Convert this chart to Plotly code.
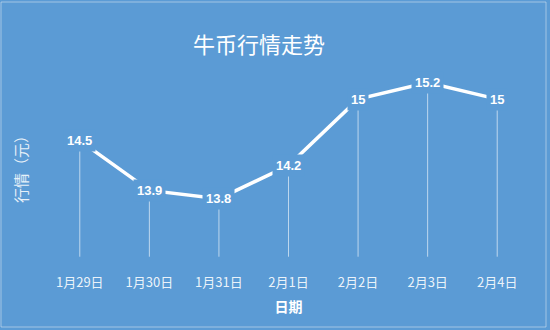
import plotly.graph_objects as go

categories = ["1月29日", "1月30日", "1月31日", "2月1日", "2月2日", "2月3日", "2月4日"]
values = [14.5, 13.9, 13.8, 14.2, 15.0, 15.2, 15.0]
labels = ["14.5", "13.9", "13.8", "14.2", "15", "15.2", "15"]
y_min = 13.0
drop_end = 13.1

BG = "#5b9bd5"
CJK = "Noto Sans CJK SC"

fig = go.Figure()

# drop lines from each point down toward the axis
fig.add_trace(go.Scatter(
    x=categories, y=values, mode="markers",
    marker=dict(size=1, color="rgba(0,0,0,0)"),
    error_y=dict(type="data", symmetric=False, array=[0] * len(values),
                 arrayminus=[v - drop_end for v in values],
                 color="rgba(255,255,255,0.6)", thickness=1, width=0),
    hoverinfo="skip", showlegend=False,
))

# main line
fig.add_trace(go.Scatter(
    x=categories, y=values, mode="lines",
    line=dict(color="white", width=3.5),
    showlegend=False,
))

for c, v, t in zip(categories, values, labels):
    fig.add_annotation(x=c, y=v, text=t, showarrow=False,
                       font=dict(family="Liberation Sans", size=13, color="white", weight="bold"),
                       bgcolor=BG, borderpad=3)

fig.update_layout(
    width=550, height=330,
    paper_bgcolor=BG, plot_bgcolor=BG,
    margin=dict(l=45, r=18, t=66, b=65),
    title=dict(text="牛币行情走势", x=259 / 550, xanchor="center", y=1 - 45 / 330, yanchor="middle",
               font=dict(family=CJK, size=22, color="white")),
    xaxis=dict(type="category", categoryorder="array", categoryarray=categories,
               range=[-0.5, len(categories) - 0.5], showgrid=False, zeroline=False,
               showline=False, ticks="", ticklabelstandoff=8,
               tickfont=dict(family=CJK, size=13, color="rgba(255,255,255,0.9)"),
               title=dict(text="日期", standoff=12,
                          font=dict(family=CJK, size=14, color="white", weight="bold"))),
    yaxis=dict(range=[y_min, 15.4], showgrid=False, zeroline=False, showline=False,
               showticklabels=False, ticks="",
               title=dict(text="行情（元）", standoff=12,
                          font=dict(family=CJK, size=15, color="rgba(255,255,255,0.85)"))),
    shapes=[dict(type="rect", xref="paper", yref="paper", x0=-44 / 487, x1=1 + 14 / 487,
                 y0=-62 / 199, y1=1 + 64 / 199, line=dict(color="rgba(210,225,240,0.6)", width=1))],
)

fig.write_html("out.html")
